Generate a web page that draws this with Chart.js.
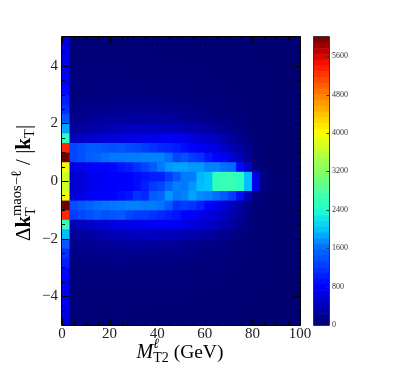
<!DOCTYPE html>
<html><head><meta charset="utf-8">
<style>html,body{margin:0;padding:0;background:#fff}canvas{position:absolute;left:0;top:0;filter:blur(0.35px)}</style>
<script src="https://cdn.jsdelivr.net/npm/chart.js@4"></script>
</head><body>
<canvas id="main" width="399" height="372"></canvas>
<canvas id="bar" width="399" height="372"></canvas>
<script>
const xBinCenters=[1.667,5,8.333,11.667,15,18.333,21.667,25,28.333,31.667,35,38.333,41.667,45,48.333,51.667,55,58.333,61.667,65,68.333,71.667,75,78.333,81.667,85,88.333,91.667,95,98.333];
const yBinTops=[5,4.667,4.333,4,3.667,3.333,3,2.667,2.333,2,1.667,1.333,1,0.667,0.333,0,-0.333,-0.667,-1,-1.333,-1.667,-2,-2.333,-2.667,-3,-3.333,-3.667,-4,-4.333,-4.667];
const yBinHeight=0.3333;
const xTickValues=[0,20,40,60,80,100];
const yTickValues=[-4,-2,0,2,4];
const xMinorValues=[5,10,15,25,30,35,45,50,55,65,70,75,85,90,95];
const yMinorValues=[-4.5,-3.5,-3,-2.5,-1.5,-1,-0.5,0.5,1,1.5,2.5,3,3.5,4.5];
const zTickValues=[0,800,1600,2400,3200,4000,4800,5600];
const zMax=6000, zStep=120;
const counts=[
[600,60,55,55,50,50,50,50,50,50,45,45,45,45,45,45,40,40,40,40,40,40,35,35,30,30,30,30,30,30],
[650,60,60,55,55,55,50,50,50,50,50,50,45,45,45,45,45,40,40,40,40,40,35,35,30,30,30,30,30,30],
[700,65,60,60,60,55,55,55,55,55,55,50,50,50,50,50,45,45,45,40,40,40,40,35,35,30,30,30,30,30],
[750,70,70,70,70,70,65,65,65,65,60,60,60,60,55,55,55,50,50,45,45,45,40,40,35,30,30,30,30,30],
[800,75,75,80,80,80,80,80,75,75,75,70,70,70,70,65,60,60,55,50,50,45,45,40,35,30,30,30,30,30],
[850,85,90,95,95,100,100,100,100,95,95,95,90,90,85,80,75,70,65,60,55,50,45,40,35,35,30,30,30,30],
[1000,100,110,120,125,130,135,135,135,140,135,130,125,125,115,110,100,90,80,70,65,55,50,45,35,35,30,30,30,30],
[1150,125,140,155,165,170,185,190,190,190,185,180,180,170,160,150,135,120,105,95,85,70,60,50,40,35,30,30,30,30],
[1400,165,190,205,225,245,260,270,275,280,280,275,265,250,235,215,195,170,150,130,115,95,75,55,40,35,30,30,30,30],
[1850,220,260,300,330,360,390,410,430,440,450,450,440,420,400,380,345,310,270,225,185,150,110,70,45,35,30,30,30,30],
[2500,440,470,520,550,580,600,620,640,660,690,700,717,735,717,690,620,550,500,440,360,280,190,110,50,35,30,30,30,30],
[5300,1309,1382,1454,1454,1418,1382,1418,1345,1309,1236,1164,1090,1054,982,873,800,717,660,607,497,386,276,165,70,40,30,30,30,30],
[6000,1309,1382,1491,1527,1600,1645,1645,1667,1667,1690,1690,1690,1600,1309,1382,1236,1164,945,800,717,607,386,220,60,35,30,30,30,30],
[3900,634,690,772,800,800,840,945,1018,1164,1309,1454,1645,1780,1825,1825,1780,1780,1690,1690,1600,1527,850,500,110,50,35,30,30,30],
[3700,552,579,690,717,772,800,800,800,873,945,1018,1018,1236,1454,1645,1667,1920,1990,2550,2600,2600,2500,1950,660,110,40,30,30,30],
[3700,552,579,690,717,772,772,800,800,873,1018,1236,1309,1527,1690,1645,1780,1955,2000,2550,2600,2600,2500,1950,690,110,40,30,30,30],
[3850,579,662,745,800,800,800,873,945,1164,1090,1454,1527,1780,1645,1690,1825,1735,1690,1600,1454,1236,873,386,110,50,35,30,30,30],
[6000,1382,1454,1527,1600,1620,1645,1667,1690,1690,1667,1667,1620,1454,1164,1236,1164,1018,800,717,607,470,300,170,60,35,30,30,30,30],
[5300,1236,1309,1382,1454,1382,1418,1454,1309,1236,1236,1164,1090,1018,945,800,772,690,607,552,470,360,250,140,60,40,30,30,30,30],
[2550,386,441,500,550,580,620,640,660,690,717,717,745,745,717,662,607,552,497,441,360,276,190,110,50,35,30,30,30,30],
[1950,220,255,290,325,350,385,405,425,435,445,440,430,415,395,370,340,305,265,220,180,145,105,70,45,35,30,30,30,30],
[1450,160,185,205,220,240,255,265,275,275,275,270,260,245,230,210,190,165,145,125,110,90,70,55,40,35,30,30,30,30],
[1150,125,135,150,160,170,180,185,190,190,185,180,175,165,155,145,130,115,100,90,80,65,55,50,40,35,30,30,30,30],
[1000,100,105,115,125,130,130,130,135,135,130,125,125,120,110,105,95,90,80,70,60,55,50,45,35,35,30,30,30,30],
[850,85,90,90,95,100,100,100,95,95,95,90,90,85,80,80,75,70,60,55,55,50,45,40,35,30,30,30,30,30],
[800,75,75,80,80,80,75,75,75,75,70,70,70,70,65,65,60,55,55,50,50,45,45,40,35,30,30,30,30,30],
[750,70,70,70,70,65,65,65,65,60,60,60,60,55,55,55,50,50,50,45,45,40,40,35,35,30,30,30,30,30],
[700,65,60,60,60,55,55,55,55,55,50,50,50,50,50,45,45,45,40,40,40,40,35,35,30,30,30,30,30,30],
[650,60,55,55,55,50,50,50,50,50,50,50,45,45,45,45,45,40,40,40,40,35,35,35,30,30,30,30,30,30],
[600,55,55,50,50,50,50,50,45,45,45,45,45,45,45,40,40,40,40,40,35,35,35,30,30,30,30,30,30,30]
];

const stops=[[0,0,0,110],[800,0,0,255],[1600,0,110,255],[2000,0,200,255],[2400,30,255,205],[3200,130,255,100],[4000,255,255,0],[4800,255,125,0],[5400,255,20,0],[5700,190,0,0],[6000,110,0,0]];
function shade(v){
  const q=Math.min(v,zMax);
  for(let i=1;i<stops.length;i++){
    if(q<=stops[i][0]){
      const a=stops[i-1],b=stops[i],t=(q-a[0])/(b[0]-a[0]);
      return `rgb(${[1,2,3].map(c=>Math.round(a[c]+(b[c]-a[c])*t)).join(',')})`;
    }
  }
  return 'rgb(110,0,0)';
}
const serif='"Liberation Serif","DejaVu Serif",serif';
function drawRun(ctx,parts,cx,cy){
  ctx.textAlign='left';ctx.textBaseline='alphabetic';
  let w=0;
  for(const p of parts){ctx.font=p.f;const m=ctx.measureText(p.t).width;p.w=m;if(!p.hold)w+=m;}
  let x=cx-w/2;
  for(const p of parts){ctx.font=p.f;ctx.fillText(p.t,x,cy+(p.dy||0));if(!p.hold)x+=p.w;}
}
const framePlugin={id:'frame',afterDatasetsDraw(c){
  const {ctx,chartArea:a,scales:{x,y}}=c;
  ctx.save();ctx.strokeStyle='#000';ctx.lineWidth=1;ctx.beginPath();
  const L=Math.round(a.left)-0.5,R=Math.round(a.right)+0.5,T=Math.round(a.top)-0.5,B=Math.round(a.bottom)+0.5;
  const tx=(v,l)=>{const p=Math.round(x.getPixelForValue(v))+0.5;ctx.moveTo(p,T);ctx.lineTo(p,T+l);ctx.moveTo(p,B);ctx.lineTo(p,B-l);};
  const ty=(v,l)=>{const p=Math.round(y.getPixelForValue(v))+0.5;ctx.moveTo(L,p);ctx.lineTo(L+l,p);ctx.moveTo(R,p);ctx.lineTo(R-l,p);};
  xTickValues.forEach(v=>tx(v,7));xMinorValues.forEach(v=>tx(v,3.5));
  yTickValues.forEach(v=>ty(v,7));yMinorValues.forEach(v=>ty(v,3.5));
  ctx.stroke();ctx.beginPath();ctx.rect(L,T,R-L,B-T);ctx.stroke();
  ctx.fillStyle='#000';
  drawRun(ctx,[
    {t:'M',f:'italic 20px '+serif},
    {t:'\u2113',f:'italic 14px '+serif,dy:-10,hold:true},
    {t:'T2',f:'14px '+serif,dy:4},
    {t:' (GeV)',f:'19.5px '+serif}
  ],180,358);
  ctx.translate(30,183);ctx.rotate(-Math.PI/2);
  drawRun(ctx,[
    {t:'\u0394',f:'21px '+serif},
    {t:'k',f:'bold 21px '+serif},
    {t:'T',f:'14.5px '+serif,dy:5,hold:true},
    {t:'maos\u2212\u2113',f:'14.5px '+serif,dy:-9},
    {t:' / |',f:'21px '+serif},
    {t:'k',f:'bold 21px '+serif},
    {t:'T',f:'14.5px '+serif,dy:4},
    {t:'|',f:'21px '+serif}
  ],0,0);
  ctx.restore();
}};
const rowSets=counts.map((row,r)=>({
  label:'y '+yBinTops[r],
  data:row.map((v,k)=>({x:xBinCenters[k],y:[yBinTops[r]-yBinHeight,yBinTops[r]]})),
  backgroundColor:row.map(shade),
  borderWidth:0,grouped:false,barPercentage:1,categoryPercentage:1,inflateAmount:0.4
}));
new Chart(document.getElementById('main'),{
  type:'bar',data:{datasets:rowSets},plugins:[framePlugin],
  options:{responsive:false,animation:false,events:[],
    layout:{padding:{left:0,top:37,right:99,bottom:0}},
    plugins:{legend:{display:false},tooltip:{enabled:false}},
    scales:{
      x:{type:'linear',offset:false,min:0,max:100,grid:{display:false,drawTicks:false,tickLength:0},border:{display:false},
        afterBuildTicks:s=>{s.ticks=xTickValues.map(v=>({value:v}))},afterFit:s=>{s.height=47},
        ticks:{maxRotation:0,padding:0,color:'#222',font:{family:serif,size:15},callback:v=>String(v)}},
      y:{type:'linear',min:-5,max:5,grid:{display:false,drawTicks:false,tickLength:0},border:{display:false},
        afterBuildTicks:s=>{s.ticks=yTickValues.map(v=>({value:v}))},afterFit:s=>{s.width=62},
        ticks:{padding:4,color:'#222',font:{family:serif,size:15},callback:v=>String(v).replace('-','\u2212')}}
    }}
});
const levels=[];for(let z=0;z<zMax;z+=zStep)levels.push(z);
new Chart(document.getElementById('bar'),{
  type:'bar',
  data:{labels:[''],datasets:levels.map(z=>({data:[[z,z+zStep]],backgroundColor:shade(z+zStep/2),borderWidth:0,grouped:false,barPercentage:1,categoryPercentage:1,inflateAmount:0.3}))},
  plugins:[{id:'cbFrame',afterDatasetsDraw(c){
    const {ctx,chartArea:a,scales:{y}}=c;ctx.save();ctx.strokeStyle='#333';ctx.lineWidth=1;ctx.beginPath();
    zTickValues.forEach(v=>{const p=Math.round(y.getPixelForValue(v))+0.5;ctx.moveTo(a.right,p);ctx.lineTo(a.right-2.5,p);});
    ctx.rect(Math.round(a.left)-0.5,Math.round(a.top)-0.5,a.right-a.left+1,a.bottom-a.top+1);ctx.stroke();ctx.restore();
  }}],
  options:{responsive:false,animation:false,events:[],
    layout:{padding:{left:314,top:37,right:0,bottom:47}},
    plugins:{legend:{display:false},tooltip:{enabled:false}},
    scales:{
      x:{type:'category',display:false},
      y:{type:'linear',position:'right',min:0,max:zMax,grid:{display:false,drawTicks:false,tickLength:0},border:{display:false},
        afterBuildTicks:s=>{s.ticks=zTickValues.map(v=>({value:v}))},afterFit:s=>{s.width=70},
        ticks:{padding:3,color:'#333',font:{family:serif,size:8},callback:v=>String(v)}}
    }}
});
</script>
</body></html>
